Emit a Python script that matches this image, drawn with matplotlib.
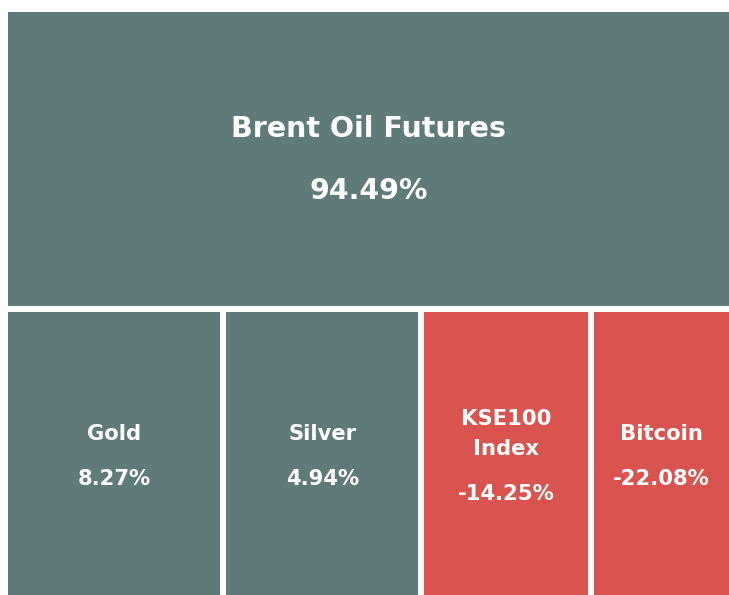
import matplotlib.pyplot as plt
from matplotlib.patches import Rectangle

names = ["Brent Oil Futures", "Gold", "Silver", "KSE100\nIndex", "Bitcoin"]
changes = [94.49, 8.27, 4.94, -14.25, -22.08]
# tile weights (not proportional to the change)
weights = [214.1, 61.5, 56.8, 48.5, 39.5]

pos_color = "#5e7a79"
neg_color = "#d9544f"

W, H = 729, 595
x0, y0 = 8, 12
gap = 6

fig = plt.figure(figsize=(W / 100, H / 100), dpi=100)
ax = fig.add_axes([0, 0, 1, 1])
ax.set_xlim(0, W)
ax.set_ylim(H, 0)
ax.axis("off")

# first tile fills the top row, the rest share the bottom row
total = sum(weights)
w_all = W - x0
h_all = H - y0
top_h = h_all * weights[0] / total
rects = [(x0, y0, w_all, top_h)]
bottom_w = sum(weights[1:])
x = x0
for wt in weights[1:]:
    w = w_all * wt / bottom_w
    rects.append((x, y0 + top_h, w, h_all - top_h))
    x += w

for i, (rx, ry, rw, rh) in enumerate(rects):
    color = pos_color if changes[i] >= 0 else neg_color
    # shrink by half the gap on inner edges
    left = rx if rx <= x0 else rx + gap / 2
    right = rx + rw if rx + rw >= W - 0.5 else rx + rw - gap / 2
    top = ry if ry <= y0 else ry + gap / 2
    bottom = ry + rh if ry + rh >= H - 0.5 else ry + rh - gap / 2
    ax.add_patch(Rectangle((left, top), right - left, bottom - top,
                           facecolor=color, edgecolor="none"))
    cx = (left + right) / 2
    cy = (top + bottom) / 2
    lines = names[i].split("\n")
    if i == 0:
        fs, step, sep, shift = 20.5, 30, 62, 1
    else:
        fs, step, sep, shift = 15.2, 30, 45, 3
    val_y = cy + (len(lines) - 1) * step / 2 + sep / 2 + shift
    ax.text(cx, val_y, f"{changes[i]:.2f}%", ha="center", va="center",
            color="white", fontsize=fs, fontweight="bold", family="DejaVu Sans")
    for j, line in enumerate(lines):
        ly = val_y - sep - (len(lines) - 1 - j) * step
        ax.text(cx, ly, line, ha="center", va="center",
                color="white", fontsize=fs, fontweight="bold", family="DejaVu Sans")

fig.savefig("out.png", dpi=100)
